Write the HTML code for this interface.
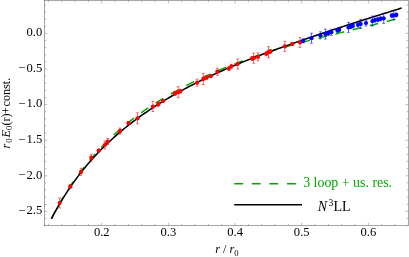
<!DOCTYPE html>
<html><head><meta charset="utf-8"><style>
html,body{margin:0;padding:0;background:#fff;}
svg{display:block;will-change:transform}
text{font-family:"Liberation Serif",serif;}
</style></head><body>
<svg width="409" height="257" viewBox="0 0 409 257">
<rect width="409" height="257" fill="#fff"/>
<path d="M51.40 218.65 L52.28 216.94 L53.16 215.26 L54.03 213.59 L54.91 211.95 L55.79 210.33 L56.67 208.72 L57.54 207.13 L58.42 205.56 L59.30 204.02 L60.18 202.49 L61.05 200.98 L61.93 199.49 L62.81 198.02 L63.69 196.57 L64.57 195.13 L65.44 193.71 L66.32 192.31 L67.20 190.93 L68.08 189.57 L68.95 188.22 L69.83 186.88 L70.71 185.57 L71.59 184.27 L72.46 182.98 L73.34 181.71 L74.22 180.45 L75.10 179.21 L75.98 177.98 L76.85 176.76 L77.73 175.56 L78.61 174.37 L79.49 173.20 L80.36 172.03 L81.24 170.88 L82.12 169.74 L83.00 168.61 L83.87 167.49 L84.75 166.39 L85.63 165.29 L86.51 164.21 L87.39 163.13 L88.26 162.07 L89.14 161.02 L90.02 159.97 L90.90 158.94 L91.77 157.92 L92.65 156.90 L93.53 155.90 L94.41 154.90 L95.28 153.92 L96.16 152.94 L97.04 151.97 L97.92 151.01 L98.80 150.06 L99.67 149.11 L100.55 148.18 L101.43 147.25 L102.31 146.33 L103.18 145.42 L104.06 144.52 L104.94 143.62 L105.82 142.73 L106.69 141.85 L107.57 140.98 L108.45 140.11 L109.33 139.25 L110.21 138.40 L111.08 137.55 L111.96 136.71 L112.84 135.88 L113.72 135.06 L114.59 134.25 L115.47 133.45 L116.35 132.65 L117.23 131.86 L118.10 131.08 L118.98 130.31 L119.86 129.54 L120.74 128.79 L121.62 128.04 L122.49 127.29 L123.37 126.56 L124.25 125.83 L125.13 125.11 L126.00 124.40 L126.88 123.68 L127.76 122.98 L128.64 122.28 L129.51 121.58 L130.39 120.89 L131.27 120.21 L132.15 119.53 L133.03 118.85 L133.90 118.18 L134.78 117.51 L135.66 116.85 L136.54 116.19 L137.41 115.54 L138.29 114.89 L139.17 114.25 L140.05 113.61 L140.92 112.97 L141.80 112.35 L142.68 111.72 L143.56 111.11 L144.44 110.49 L145.31 109.89 L146.19 109.28 L147.07 108.69 L147.95 108.09 L148.82 107.50 L149.70 106.92 L150.58 106.34 L151.46 105.77 L152.33 105.20 L153.21 104.63 L154.09 104.07 L154.97 103.51 L155.85 102.96 L156.72 102.41 L157.60 101.86 L158.48 101.31 L159.36 100.77 L160.23 100.23 L161.11 99.70 L161.99 99.16 L162.87 98.63 L163.74 98.11 L164.62 97.58 L165.50 97.06 L166.38 96.55 L167.26 96.03 L168.13 95.52 L169.01 95.01 L169.89 94.51 L170.77 94.00 L171.64 93.50 L172.52 93.01 L173.40 92.51 L174.28 92.02 L175.15 91.53 L176.03 91.04 L176.91 90.56 L177.79 90.08 L178.67 89.60 L179.54 89.12 L180.42 88.65 L181.30 88.17 L182.18 87.71 L183.05 87.24 L183.93 86.77 L184.81 86.31 L185.69 85.85 L186.56 85.40 L187.44 84.95 L188.32 84.50 L189.20 84.05 L190.08 83.61 L190.95 83.17 L191.83 82.73 L192.71 82.29 L193.59 81.86 L194.46 81.44 L195.34 81.01 L196.22 80.59 L197.10 80.17 L197.97 79.75 L198.85 79.33 L199.73 78.92 L200.61 78.51 L201.49 78.10 L202.36 77.69 L203.24 77.29 L204.12 76.88 L205.00 76.48 L205.87 76.08 L206.75 75.68 L207.63 75.28 L208.51 74.89 L209.38 74.50 L210.26 74.10 L211.14 73.71 L212.02 73.33 L212.90 72.94 L213.77 72.55 L214.65 72.17 L215.53 71.79 L216.41 71.41 L217.28 71.03 L218.16 70.65 L219.04 70.28 L219.92 69.90 L220.79 69.53 L221.67 69.16 L222.55 68.79 L223.43 68.42 L224.31 68.06 L225.18 67.69 L226.06 67.33 L226.94 66.97 L227.82 66.61 L228.69 66.26 L229.57 65.90 L230.45 65.55 L231.33 65.20 L232.21 64.86 L233.08 64.51 L233.96 64.17 L234.84 63.83 L235.72 63.49 L236.59 63.15 L237.47 62.81 L238.35 62.48 L239.23 62.15 L240.10 61.81 L240.98 61.48 L241.86 61.15 L242.74 60.82 L243.62 60.50 L244.49 60.17 L245.37 59.84 L246.25 59.52 L247.13 59.20 L248.00 58.88 L248.88 58.56 L249.76 58.24 L250.64 57.92 L251.51 57.60 L252.39 57.28 L253.27 56.97 L254.15 56.65 L255.03 56.34 L255.90 56.03 L256.78 55.72 L257.66 55.41 L258.54 55.11 L259.41 54.81 L260.29 54.52 L261.17 54.22 L262.05 53.93 L262.92 53.65 L263.80 53.36 L264.68 53.08 L265.56 52.81 L266.44 52.54 L267.31 52.26 L268.19 52.00 L269.07 51.73 L269.95 51.47 L270.82 51.21 L271.70 50.95 L272.58 50.69 L273.46 50.43 L274.33 50.17 L275.21 49.91 L276.09 49.65 L276.97 49.40 L277.85 49.14 L278.72 48.89 L279.60 48.63 L280.48 48.38 L281.36 48.13 L282.23 47.88 L283.11 47.63 L283.99 47.38 L284.87 47.13 L285.74 46.88 L286.62 46.63 L287.50 46.38 L288.38 46.13 L289.26 45.89 L290.13 45.64 L291.01 45.40 L291.89 45.15 L292.77 44.91 L293.64 44.67 L294.52 44.43 L295.40 44.18 L296.28 43.94 L297.15 43.70 L298.03 43.46 L298.91 43.23 L299.79 42.99 L300.67 42.75 L301.54 42.51 L302.42 42.28 L303.30 42.04 L304.18 41.80 L305.05 41.57 L305.93 41.34 L306.81 41.10 L307.69 40.87 L308.56 40.64 L309.44 40.41 L310.32 40.17 L311.20 39.94 L312.08 39.71 L312.95 39.48 L313.83 39.26 L314.71 39.03 L315.59 38.80 L316.46 38.58 L317.34 38.35 L318.22 38.13 L319.10 37.91 L319.97 37.69 L320.85 37.47 L321.73 37.25 L322.61 37.03 L323.49 36.81 L324.36 36.60 L325.24 36.38 L326.12 36.17 L327.00 35.96 L327.87 35.75 L328.75 35.54 L329.63 35.33 L330.51 35.11 L331.38 34.90 L332.26 34.69 L333.14 34.49 L334.02 34.28 L334.90 34.07 L335.77 33.86 L336.65 33.65 L337.53 33.43 L338.41 33.22 L339.28 33.01 L340.16 32.80 L341.04 32.59 L341.92 32.37 L342.79 32.16 L343.67 31.94 L344.55 31.73 L345.43 31.51 L346.31 31.29 L347.18 31.08 L348.06 30.86 L348.94 30.64 L349.82 30.43 L350.69 30.21 L351.57 30.00 L352.45 29.78 L353.33 29.57 L354.20 29.35 L355.08 29.14 L355.96 28.92 L356.84 28.71 L357.72 28.50 L358.59 28.29 L359.47 28.07 L360.35 27.86 L361.23 27.65 L362.10 27.44 L362.98 27.23 L363.86 27.02 L364.74 26.81 L365.61 26.60 L366.49 26.39 L367.37 26.18 L368.25 25.96 L369.13 25.75 L370.00 25.54 L370.88 25.33 L371.76 25.11 L372.64 24.90 L373.51 24.68 L374.39 24.46 L375.27 24.25 L376.15 24.03 L377.02 23.81 L377.90 23.59 L378.78 23.36 L379.66 23.14 L380.54 22.92 L381.41 22.70 L382.29 22.48 L383.17 22.25 L384.05 22.03 L384.92 21.81 L385.80 21.59 L386.68 21.37 L387.56 21.15 L388.43 20.93 L389.31 20.71 L390.19 20.50 L391.07 20.28 L391.95 20.06 L392.82 19.85 L393.70 19.63 L394.58 19.42 L395.46 19.20 L396.33 18.99 L397.21 18.76 L398.09 18.54 L398.97 18.31 L399.84 18.08 L400.72 17.84 L401.60 17.60" fill="none" stroke="#00aa00" stroke-width="1.5" stroke-dasharray="8.85 8.75" stroke-dashoffset="0.74"/>
<path d="M51.40 218.79 L53.16 215.43 L54.92 212.17 L56.68 209.00 L58.44 205.91 L60.20 202.91 L61.96 199.98 L63.72 197.13 L65.48 194.35 L67.24 191.64 L69.00 188.99 L70.76 186.41 L72.52 183.89 L74.28 181.42 L76.04 179.01 L77.80 176.66 L79.56 174.35 L81.32 172.10 L83.08 169.89 L84.84 167.73 L86.60 165.61 L88.36 163.53 L90.12 161.50 L91.88 159.50 L93.64 157.54 L95.39 155.62 L97.15 153.74 L98.91 151.89 L100.67 150.08 L102.43 148.30 L104.19 146.55 L105.95 144.84 L107.71 143.15 L109.47 141.50 L111.23 139.87 L112.99 138.27 L114.75 136.69 L116.51 135.14 L118.27 133.61 L120.03 132.11 L121.79 130.63 L123.55 129.17 L125.31 127.74 L127.07 126.32 L128.83 124.93 L130.59 123.56 L132.35 122.20 L134.11 120.87 L135.87 119.55 L137.63 118.26 L139.39 116.98 L141.15 115.71 L142.91 114.47 L144.67 113.24 L146.43 112.02 L148.19 110.83 L149.95 109.64 L151.71 108.48 L153.47 107.32 L155.23 106.18 L156.99 105.06 L158.75 103.94 L160.51 102.84 L162.27 101.76 L164.03 100.68 L165.79 99.62 L167.55 98.57 L169.31 97.53 L171.07 96.50 L172.83 95.49 L174.59 94.48 L176.35 93.49 L178.11 92.50 L179.87 91.53 L181.63 90.57 L183.38 89.61 L185.14 88.67 L186.90 87.73 L188.66 86.80 L190.42 85.88 L192.18 84.98 L193.94 84.07 L195.70 83.18 L197.46 82.30 L199.22 81.42 L200.98 80.55 L202.74 79.69 L204.50 78.84 L206.26 77.99 L208.02 77.15 L209.78 76.32 L211.54 75.50 L213.30 74.68 L215.06 73.87 L216.82 73.06 L218.58 72.26 L220.34 71.47 L222.10 70.69 L223.86 69.92 L225.62 69.16 L227.38 68.40 L229.14 67.65 L230.90 66.90 L232.66 66.15 L234.42 65.42 L236.18 64.68 L237.94 63.96 L239.70 63.23 L241.46 62.52 L243.22 61.80 L244.98 61.10 L246.74 60.39 L248.50 59.69 L250.26 59.00 L252.02 58.32 L253.78 57.64 L255.54 56.97 L257.30 56.30 L259.06 55.64 L260.82 54.98 L262.58 54.32 L264.34 53.67 L266.10 53.02 L267.86 52.37 L269.62 51.73 L271.37 51.09 L273.13 50.45 L274.89 49.82 L276.65 49.19 L278.41 48.57 L280.17 47.94 L281.93 47.32 L283.69 46.71 L285.45 46.09 L287.21 45.48 L288.97 44.87 L290.73 44.26 L292.49 43.63 L294.25 43.01 L296.01 42.38 L297.77 41.77 L299.53 41.15 L301.29 40.53 L303.05 39.92 L304.81 39.31 L306.57 38.70 L308.33 38.10 L310.09 37.50 L311.85 36.89 L313.61 36.30 L315.37 35.70 L317.13 35.10 L318.89 34.51 L320.65 33.92 L322.41 33.33 L324.17 32.74 L325.93 32.15 L327.69 31.57 L329.45 30.99 L331.21 30.40 L332.97 29.82 L334.73 29.25 L336.49 28.67 L338.25 28.09 L340.01 27.52 L341.77 26.95 L343.53 26.37 L345.29 25.80 L347.05 25.23 L348.81 24.67 L350.57 24.10 L352.33 23.53 L354.09 22.97 L355.85 22.41 L357.61 21.84 L359.36 21.28 L361.12 20.72 L362.88 20.16 L364.64 19.61 L366.40 19.05 L368.16 18.49 L369.92 17.94 L371.68 17.38 L373.44 16.83 L375.20 16.27 L376.96 15.72 L378.72 15.17 L380.48 14.62 L382.24 14.07 L384.00 13.52 L385.76 12.97 L387.52 12.42 L389.28 11.87 L391.04 11.32 L392.80 10.78 L394.56 10.23 L396.32 9.68 L398.08 9.14 L399.84 8.59 L401.60 8.05" fill="none" stroke="#000" stroke-width="1.55"/>
<path d="M59.65 198.00V208.00M58.35 198.00h2.6M58.35 208.00h2.6" stroke="#ff0000" stroke-width="0.6" fill="none"/>
<path d="M70.30 184.50V188.50M69.00 184.50h2.6M69.00 188.50h2.6" stroke="#ff0000" stroke-width="0.6" fill="none"/>
<path d="M81.10 168.30V175.30M79.80 168.30h2.6M79.80 175.30h2.6" stroke="#ff0000" stroke-width="0.6" fill="none"/>
<path d="M91.30 154.20V161.20M90.00 154.20h2.6M90.00 161.20h2.6" stroke="#ff0000" stroke-width="0.6" fill="none"/>
<path d="M98.70 149.10V152.10M97.40 149.10h2.6M97.40 152.10h2.6" stroke="#ff0000" stroke-width="0.6" fill="none"/>
<path d="M104.80 141.00V149.00M103.50 141.00h2.6M103.50 149.00h2.6" stroke="#ff0000" stroke-width="0.6" fill="none"/>
<path d="M107.80 138.50V144.50M106.50 138.50h2.6M106.50 144.50h2.6" stroke="#ff0000" stroke-width="0.6" fill="none"/>
<path d="M120.10 128.10V134.10M118.80 128.10h2.6M118.80 134.10h2.6" stroke="#ff0000" stroke-width="0.6" fill="none"/>
<path d="M128.40 121.60V124.60M127.10 121.60h2.6M127.10 124.60h2.6" stroke="#ff0000" stroke-width="0.6" fill="none"/>
<path d="M137.50 112.80V123.80M136.20 112.80h2.6M136.20 123.80h2.6" stroke="#ff0000" stroke-width="0.6" fill="none"/>
<path d="M152.90 101.50V111.50M151.60 101.50h2.6M151.60 111.50h2.6" stroke="#ff0000" stroke-width="0.6" fill="none"/>
<path d="M158.30 101.70V106.70M157.00 101.70h2.6M157.00 106.70h2.6" stroke="#ff0000" stroke-width="0.6" fill="none"/>
<path d="M163.00 99.50V102.50M161.70 99.50h2.6M161.70 102.50h2.6" stroke="#ff0000" stroke-width="0.6" fill="none"/>
<path d="M175.00 91.40V95.40M173.70 91.40h2.6M173.70 95.40h2.6" stroke="#ff0000" stroke-width="0.6" fill="none"/>
<path d="M178.20 86.70V97.70M176.90 86.70h2.6M176.90 97.70h2.6" stroke="#ff0000" stroke-width="0.6" fill="none"/>
<path d="M180.30 89.20V93.20M179.00 89.20h2.6M179.00 93.20h2.6" stroke="#ff0000" stroke-width="0.6" fill="none"/>
<path d="M197.10 79.20V86.20M195.80 79.20h2.6M195.80 86.20h2.6" stroke="#ff0000" stroke-width="0.6" fill="none"/>
<path d="M203.30 73.60V84.60M202.00 73.60h2.6M202.00 84.60h2.6" stroke="#ff0000" stroke-width="0.6" fill="none"/>
<path d="M206.50 75.70V79.70M205.20 75.70h2.6M205.20 79.70h2.6" stroke="#ff0000" stroke-width="0.6" fill="none"/>
<path d="M210.90 74.60V77.60M209.60 74.60h2.6M209.60 77.60h2.6" stroke="#ff0000" stroke-width="0.6" fill="none"/>
<path d="M217.40 68.20V75.20M216.10 68.20h2.6M216.10 75.20h2.6" stroke="#ff0000" stroke-width="0.6" fill="none"/>
<path d="M228.90 66.60V70.60M227.60 66.60h2.6M227.60 70.60h2.6" stroke="#ff0000" stroke-width="0.6" fill="none"/>
<path d="M231.30 64.30V68.30M230.00 64.30h2.6M230.00 68.30h2.6" stroke="#ff0000" stroke-width="0.6" fill="none"/>
<path d="M237.70 59.00V69.00M236.40 59.00h2.6M236.40 69.00h2.6" stroke="#ff0000" stroke-width="0.6" fill="none"/>
<path d="M252.10 56.50V60.50M250.80 56.50h2.6M250.80 60.50h2.6" stroke="#ff0000" stroke-width="0.6" fill="none"/>
<path d="M253.60 53.20V63.20M252.30 53.20h2.6M252.30 63.20h2.6" stroke="#ff0000" stroke-width="0.6" fill="none"/>
<path d="M258.00 52.90V60.90M256.70 52.90h2.6M256.70 60.90h2.6" stroke="#ff0000" stroke-width="0.6" fill="none"/>
<path d="M266.20 51.80V55.80M264.90 51.80h2.6M264.90 55.80h2.6" stroke="#ff0000" stroke-width="0.6" fill="none"/>
<path d="M268.50 46.70V57.70M267.20 46.70h2.6M267.20 57.70h2.6" stroke="#ff0000" stroke-width="0.6" fill="none"/>
<path d="M270.40 49.40V53.40M269.10 49.40h2.6M269.10 53.40h2.6" stroke="#ff0000" stroke-width="0.6" fill="none"/>
<path d="M284.80 41.40V51.40M283.50 41.40h2.6M283.50 51.40h2.6" stroke="#ff0000" stroke-width="0.6" fill="none"/>
<path d="M292.20 42.50V45.50M290.90 42.50h2.6M290.90 45.50h2.6" stroke="#ff0000" stroke-width="0.6" fill="none"/>
<path d="M300.00 37.40V47.40M298.70 37.40h2.6M298.70 47.40h2.6" stroke="#ff0000" stroke-width="0.6" fill="none"/>
<circle cx="59.65" cy="203.00" r="2.1" fill="#ff0000"/>
<circle cx="70.30" cy="186.50" r="2.1" fill="#ff0000"/>
<circle cx="81.10" cy="171.80" r="2.1" fill="#ff0000"/>
<circle cx="91.30" cy="157.70" r="2.1" fill="#ff0000"/>
<circle cx="98.70" cy="150.60" r="2.1" fill="#ff0000"/>
<circle cx="104.80" cy="145.00" r="2.1" fill="#ff0000"/>
<circle cx="107.80" cy="141.50" r="2.1" fill="#ff0000"/>
<circle cx="120.10" cy="131.10" r="2.1" fill="#ff0000"/>
<circle cx="128.40" cy="123.10" r="2.1" fill="#ff0000"/>
<circle cx="137.50" cy="118.30" r="2.1" fill="#ff0000"/>
<circle cx="152.90" cy="106.50" r="2.1" fill="#ff0000"/>
<circle cx="158.30" cy="104.20" r="2.1" fill="#ff0000"/>
<circle cx="163.00" cy="101.00" r="2.1" fill="#ff0000"/>
<circle cx="175.00" cy="93.40" r="2.1" fill="#ff0000"/>
<circle cx="178.20" cy="92.20" r="2.1" fill="#ff0000"/>
<circle cx="180.30" cy="91.20" r="2.1" fill="#ff0000"/>
<circle cx="197.10" cy="82.70" r="2.1" fill="#ff0000"/>
<circle cx="203.30" cy="79.10" r="2.1" fill="#ff0000"/>
<circle cx="206.50" cy="77.70" r="2.1" fill="#ff0000"/>
<circle cx="210.90" cy="76.10" r="2.1" fill="#ff0000"/>
<circle cx="217.40" cy="71.70" r="2.1" fill="#ff0000"/>
<circle cx="228.90" cy="68.60" r="2.1" fill="#ff0000"/>
<circle cx="231.30" cy="66.30" r="2.1" fill="#ff0000"/>
<circle cx="237.70" cy="64.00" r="2.1" fill="#ff0000"/>
<circle cx="252.10" cy="58.50" r="2.1" fill="#ff0000"/>
<circle cx="253.60" cy="58.20" r="2.1" fill="#ff0000"/>
<circle cx="258.00" cy="56.90" r="2.1" fill="#ff0000"/>
<circle cx="266.20" cy="53.80" r="2.1" fill="#ff0000"/>
<circle cx="268.50" cy="52.20" r="2.1" fill="#ff0000"/>
<circle cx="270.40" cy="51.40" r="2.1" fill="#ff0000"/>
<circle cx="284.80" cy="46.40" r="2.1" fill="#ff0000"/>
<circle cx="292.20" cy="44.00" r="2.1" fill="#ff0000"/>
<circle cx="300.00" cy="42.40" r="2.1" fill="#ff0000"/>
<path d="M303.20 38.80V42.80M301.90 38.80h2.6M301.90 42.80h2.6" stroke="#0000ff" stroke-width="0.6" fill="none"/>
<path d="M311.50 33.20V43.20M310.20 33.20h2.6M310.20 43.20h2.6" stroke="#0000ff" stroke-width="0.6" fill="none"/>
<path d="M320.40 31.80V38.80M319.10 31.80h2.6M319.10 38.80h2.6" stroke="#0000ff" stroke-width="0.6" fill="none"/>
<path d="M325.40 29.10V39.10M324.10 29.10h2.6M324.10 39.10h2.6" stroke="#0000ff" stroke-width="0.6" fill="none"/>
<path d="M328.20 31.40V35.40M326.90 31.40h2.6M326.90 35.40h2.6" stroke="#0000ff" stroke-width="0.6" fill="none"/>
<path d="M331.30 29.30V35.30M330.00 29.30h2.6M330.00 35.30h2.6" stroke="#0000ff" stroke-width="0.6" fill="none"/>
<path d="M337.50 28.40V32.40M336.20 28.40h2.6M336.20 32.40h2.6" stroke="#0000ff" stroke-width="0.6" fill="none"/>
<path d="M339.20 28.20V31.20M337.90 28.20h2.6M337.90 31.20h2.6" stroke="#0000ff" stroke-width="0.6" fill="none"/>
<path d="M348.50 22.40V32.40M347.20 22.40h2.6M347.20 32.40h2.6" stroke="#0000ff" stroke-width="0.6" fill="none"/>
<path d="M350.80 24.60V28.60M349.50 24.60h2.6M349.50 28.60h2.6" stroke="#0000ff" stroke-width="0.6" fill="none"/>
<path d="M352.90 23.80V27.80M351.60 23.80h2.6M351.60 27.80h2.6" stroke="#0000ff" stroke-width="0.6" fill="none"/>
<path d="M358.00 22.80V26.80M356.70 22.80h2.6M356.70 26.80h2.6" stroke="#0000ff" stroke-width="0.6" fill="none"/>
<path d="M360.70 19.40V28.40M359.40 19.40h2.6M359.40 28.40h2.6" stroke="#0000ff" stroke-width="0.6" fill="none"/>
<path d="M366.00 20.00V26.00M364.70 20.00h2.6M364.70 26.00h2.6" stroke="#0000ff" stroke-width="0.6" fill="none"/>
<path d="M372.40 16.10V26.10M371.10 16.10h2.6M371.10 26.10h2.6" stroke="#0000ff" stroke-width="0.6" fill="none"/>
<path d="M375.00 18.10V22.10M373.70 18.10h2.6M373.70 22.10h2.6" stroke="#0000ff" stroke-width="0.6" fill="none"/>
<path d="M377.90 17.60V21.60M376.60 17.60h2.6M376.60 21.60h2.6" stroke="#0000ff" stroke-width="0.6" fill="none"/>
<path d="M380.60 16.80V20.80M379.30 16.80h2.6M379.30 20.80h2.6" stroke="#0000ff" stroke-width="0.6" fill="none"/>
<path d="M383.70 13.40V23.40M382.40 13.40h2.6M382.40 23.40h2.6" stroke="#0000ff" stroke-width="0.6" fill="none"/>
<path d="M391.90 13.60V17.60M390.60 13.60h2.6M390.60 17.60h2.6" stroke="#0000ff" stroke-width="0.6" fill="none"/>
<path d="M393.80 10.80V19.80M392.50 10.80h2.6M392.50 19.80h2.6" stroke="#0000ff" stroke-width="0.6" fill="none"/>
<path d="M396.30 12.90V16.90M395.00 12.90h2.6M395.00 16.90h2.6" stroke="#0000ff" stroke-width="0.6" fill="none"/>
<circle cx="303.20" cy="40.80" r="2.1" fill="#0000ff"/>
<circle cx="311.50" cy="38.20" r="2.1" fill="#0000ff"/>
<circle cx="320.40" cy="35.30" r="2.1" fill="#0000ff"/>
<circle cx="325.40" cy="34.10" r="2.1" fill="#0000ff"/>
<circle cx="328.20" cy="33.40" r="2.1" fill="#0000ff"/>
<circle cx="331.30" cy="32.30" r="2.1" fill="#0000ff"/>
<circle cx="337.50" cy="30.40" r="2.1" fill="#0000ff"/>
<circle cx="339.20" cy="29.70" r="2.1" fill="#0000ff"/>
<circle cx="348.50" cy="27.40" r="2.1" fill="#0000ff"/>
<circle cx="350.80" cy="26.60" r="2.1" fill="#0000ff"/>
<circle cx="352.90" cy="25.80" r="2.1" fill="#0000ff"/>
<circle cx="358.00" cy="24.80" r="2.1" fill="#0000ff"/>
<circle cx="360.70" cy="23.90" r="2.1" fill="#0000ff"/>
<circle cx="366.00" cy="23.00" r="2.1" fill="#0000ff"/>
<circle cx="372.40" cy="21.10" r="2.1" fill="#0000ff"/>
<circle cx="375.00" cy="20.10" r="2.1" fill="#0000ff"/>
<circle cx="377.90" cy="19.60" r="2.1" fill="#0000ff"/>
<circle cx="380.60" cy="18.80" r="2.1" fill="#0000ff"/>
<circle cx="383.70" cy="18.40" r="2.1" fill="#0000ff"/>
<circle cx="391.90" cy="15.60" r="2.1" fill="#0000ff"/>
<circle cx="393.80" cy="15.30" r="2.1" fill="#0000ff"/>
<circle cx="396.30" cy="14.90" r="2.1" fill="#0000ff"/>
<rect x="44.5" y="0.5" width="363.8" height="225.2" fill="none" stroke="#707070" stroke-width="0.62"/>
<path d="M48.42 225.7v-1.8M48.42 0.5v1.8M61.75 225.7v-1.8M61.75 0.5v1.8M75.09 225.7v-1.8M75.09 0.5v1.8M88.42 225.7v-1.8M88.42 0.5v1.8M101.75 225.7v-2.9M101.75 0.5v2.9M115.08 225.7v-1.8M115.08 0.5v1.8M128.41 225.7v-1.8M128.41 0.5v1.8M141.75 225.7v-1.8M141.75 0.5v1.8M155.08 225.7v-1.8M155.08 0.5v1.8M168.41 225.7v-2.9M168.41 0.5v2.9M181.74 225.7v-1.8M181.74 0.5v1.8M195.07 225.7v-1.8M195.07 0.5v1.8M208.41 225.7v-1.8M208.41 0.5v1.8M221.74 225.7v-1.8M221.74 0.5v1.8M235.07 225.7v-2.9M235.07 0.5v2.9M248.40 225.7v-1.8M248.40 0.5v1.8M261.73 225.7v-1.8M261.73 0.5v1.8M275.07 225.7v-1.8M275.07 0.5v1.8M288.40 225.7v-1.8M288.40 0.5v1.8M301.73 225.7v-2.9M301.73 0.5v2.9M315.06 225.7v-1.8M315.06 0.5v1.8M328.39 225.7v-1.8M328.39 0.5v1.8M341.73 225.7v-1.8M341.73 0.5v1.8M355.06 225.7v-1.8M355.06 0.5v1.8M368.39 225.7v-2.9M368.39 0.5v2.9M381.72 225.7v-1.8M381.72 0.5v1.8M395.05 225.7v-1.8M395.05 0.5v1.8M44.5 225.64h1.8M408.3 225.64h-1.8M44.5 218.52h1.8M408.3 218.52h-1.8M44.5 211.40h2.9M408.3 211.40h-2.9M44.5 204.28h1.8M408.3 204.28h-1.8M44.5 197.16h1.8M408.3 197.16h-1.8M44.5 190.04h1.8M408.3 190.04h-1.8M44.5 182.92h1.8M408.3 182.92h-1.8M44.5 175.80h2.9M408.3 175.80h-2.9M44.5 168.68h1.8M408.3 168.68h-1.8M44.5 161.56h1.8M408.3 161.56h-1.8M44.5 154.44h1.8M408.3 154.44h-1.8M44.5 147.32h1.8M408.3 147.32h-1.8M44.5 140.20h2.9M408.3 140.20h-2.9M44.5 133.08h1.8M408.3 133.08h-1.8M44.5 125.96h1.8M408.3 125.96h-1.8M44.5 118.84h1.8M408.3 118.84h-1.8M44.5 111.72h1.8M408.3 111.72h-1.8M44.5 104.60h2.9M408.3 104.60h-2.9M44.5 97.48h1.8M408.3 97.48h-1.8M44.5 90.36h1.8M408.3 90.36h-1.8M44.5 83.24h1.8M408.3 83.24h-1.8M44.5 76.12h1.8M408.3 76.12h-1.8M44.5 69.00h2.9M408.3 69.00h-2.9M44.5 61.88h1.8M408.3 61.88h-1.8M44.5 54.76h1.8M408.3 54.76h-1.8M44.5 47.64h1.8M408.3 47.64h-1.8M44.5 40.52h1.8M408.3 40.52h-1.8M44.5 33.40h2.9M408.3 33.40h-2.9M44.5 26.28h1.8M408.3 26.28h-1.8M44.5 19.16h1.8M408.3 19.16h-1.8M44.5 12.04h1.8M408.3 12.04h-1.8M44.5 4.92h1.8M408.3 4.92h-1.8" stroke="#7a7a7a" stroke-width="0.5" fill="none"/>
<g font-size="12.6" fill="#000"><text x="101.75" y="236.2" text-anchor="middle">0.2</text><text x="168.41" y="236.2" text-anchor="middle">0.3</text><text x="235.07" y="236.2" text-anchor="middle">0.4</text><text x="301.73" y="236.2" text-anchor="middle">0.5</text><text x="368.39" y="236.2" text-anchor="middle">0.6</text><text x="42.2" y="36.20" text-anchor="end">0.0</text><text x="42.2" y="71.80" text-anchor="end"><tspan dy="0.5">−</tspan><tspan dx="1.1" dy="-0.5">0.5</tspan></text><text x="42.2" y="107.40" text-anchor="end"><tspan dy="0.5">−</tspan><tspan dx="1.1" dy="-0.5">1.0</tspan></text><text x="42.2" y="143.00" text-anchor="end"><tspan dy="0.5">−</tspan><tspan dx="1.1" dy="-0.5">1.5</tspan></text><text x="42.2" y="178.60" text-anchor="end"><tspan dy="0.5">−</tspan><tspan dx="1.1" dy="-0.5">2.0</tspan></text><text x="42.2" y="214.20" text-anchor="end"><tspan dy="0.5">−</tspan><tspan dx="1.1" dy="-0.5">2.5</tspan></text></g>
<text font-size="12.2" x="215.3" y="253.2" fill="#000"><tspan font-style="italic">r</tspan> / <tspan font-style="italic">r</tspan><tspan font-size="8.6" dy="2.3">0</tspan></text>
<text font-size="12.2" transform="translate(9.6 148.4) rotate(-90)" fill="#000"><tspan font-style="italic" x="0" y="0">r</tspan><tspan font-size="8.7" x="5.7" y="2.4">0</tspan><tspan font-style="italic" x="10.9" y="0">E</tspan><tspan font-size="8.7" x="18.3" y="2.4">0</tspan><tspan x="22.8" y="0">(r)</tspan><tspan x="34.5" y="0">+</tspan><tspan x="41.9" y="0">const.</tspan></text>
<path d="M234.2 183.7H302" stroke="#00aa00" stroke-width="1.5" stroke-dasharray="8.85 8.75" fill="none"/>
<path d="M234.2 204.8H302" stroke="#000" stroke-width="1.5" fill="none"/>
<text font-size="13.9" x="303.2" y="186.7" fill="#00aa00">3 loop + us. res.</text>
<text font-size="14" x="317.7" y="210.8" fill="#000"><tspan font-style="italic">N</tspan><tspan font-size="9.6" dy="-5.2" dx="1.5">3</tspan><tspan dy="5.2" dx="0.2">LL</tspan></text>
</svg>
</body></html>
